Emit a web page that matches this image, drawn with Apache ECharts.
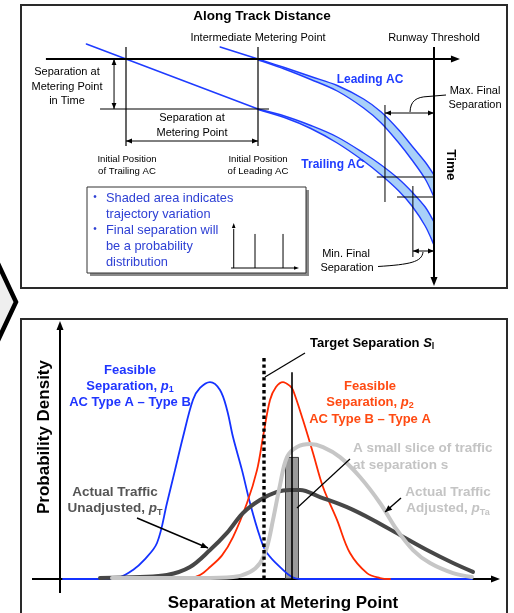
<!DOCTYPE html>
<html>
<head>
<meta charset="utf-8">
<script src="https://cdn.jsdelivr.net/npm/echarts@6/dist/echarts.min.js"></script>
<style>
html,body{margin:0;padding:0;background:#fff;}
#c{width:514px;height:613px;}
</style>
</head>
<body>
<div id="c"></div>
<script>
// ---------- Trajectory panel: along-track distance (x) vs time (y, downwards) ----------
const trailingApproach = [[-4.5, -0.6], [15, 2]];
const leadingApproach = [[10.7, -0.48], [15, 0]];
const bandDistance = [15, 18, 21, 24, 27, 29, 31, 32.5, 34, 35];
const leadingEarly = [0, 0.34, 0.7, 1.06, 1.6, 2.12, 2.84, 3.48, 4.12, 4.64];
const leadingLate = [0.03, 0.4, 0.82, 1.28, 1.96, 2.56, 3.36, 4.04, 4.8, 5.52];
const trailingEarly = [2.0, 2.28, 2.66, 3.12, 3.76, 4.24, 4.8, 5.32, 5.92, 6.52];
const trailingLate = [2.02, 2.34, 2.78, 3.36, 4.08, 4.64, 5.28, 5.88, 6.68, 7.44];
const meteringPoint = 15;
const runwayThreshold = 35;
const meteringTimeSeparation = 2;

// ---------- Separation distributions ----------
const sepBlue = [0.75, 10, 15, 18.25, 21, 24.25, 26.75, 28.75, 30.75, 33.25, 35, 37.5, 40, 41.75, 43.25, 45.5, 47.5, 50, 51.75, 55.75, 58, 60, 103];
const densBlue = [0, 0, 0.01, 0.046, 0.096, 0.183, 0.386, 0.553, 0.721, 0.91, 0.97, 1.0, 0.96, 0.86, 0.721, 0.553, 0.386, 0.213, 0.132, 0.046, 0.01, 0, 0];
const sepRed = [28, 32.5, 35, 37.5, 40.5, 43.25, 46.75, 49.25, 50.75, 52.5, 54, 55.75, 57.5, 58.25, 60.75, 63.25, 65.75, 69.25, 72.5, 76.75, 80, 82.5];
const densRed = [0, 0.005, 0.02, 0.061, 0.12, 0.213, 0.386, 0.553, 0.721, 0.909, 0.975, 1.0, 0.98, 0.96, 0.807, 0.64, 0.467, 0.3, 0.132, 0.03, 0.005, 0];
const sepUnadj = [10, 20, 26.75, 32.5, 37.5, 41.75, 45.75, 50, 54.25, 57.5, 60, 65, 71.75, 78.25, 85, 91.75, 98.25, 103.25];
const densUnadj = [0.005, 0.01, 0.02, 0.061, 0.147, 0.234, 0.335, 0.401, 0.442, 0.452, 0.452, 0.416, 0.365, 0.3, 0.223, 0.147, 0.081, 0.036];
const sepAdj = [13, 26.75, 35, 43.25, 47.5, 50, 51.75, 53.25, 55, 56.75, 59.25, 62.5, 65.75, 70, 75, 80, 84.25, 88.25, 92.5, 98.25, 103];
const densAdj = [0.005, 0.005, 0.005, 0.01, 0.036, 0.081, 0.162, 0.3, 0.477, 0.619, 0.67, 0.685, 0.67, 0.619, 0.518, 0.386, 0.249, 0.147, 0.081, 0.03, 0.01];
const targetSeparation = 51;
const sliceSeparation = 58;
const sliceDensity = 0.62;

// ---------- Small inset distribution ----------
const miniX = [2.6, 3.5, 4.2, 4.8, 5.4, 6.0, 6.6, 7.3, 8.2];
const miniY = [0, 0.03, 0.3, 0.75, 1.0, 0.75, 0.3, 0.03, 0];
const miniBounds = [3.53, 7.65];

const BLUE = '#1f3cff';
const BAND = '#a9d0f8';
const FONT = '"Liberation Sans", Arial, Helvetica, sans-serif';

const zip = (xs, ys) => xs.map((x, i) => [x, ys[i]]);

// Catmull-Rom spline through pixel points, as SVG path commands (without the initial move)
function splineCmds(pts) {
  let d = '';
  for (let i = 0; i < pts.length - 1; i++) {
    const p0 = pts[Math.max(i - 1, 0)], p1 = pts[i], p2 = pts[i + 1], p3 = pts[Math.min(i + 2, pts.length - 1)];
    const c1 = [p1[0] + (p2[0] - p0[0]) / 6, p1[1] + (p2[1] - p0[1]) / 6];
    const c2 = [p2[0] - (p3[0] - p1[0]) / 6, p2[1] - (p3[1] - p1[1]) / 6];
    d += ' C' + c1[0] + ' ' + c1[1] + ' ' + c2[0] + ' ' + c2[1] + ' ' + p2[0] + ' ' + p2[1];
  }
  return d;
}

// A trajectory band: early and late arrival edges with the variation shaded between them
function band(early, late) {
  return {
    type: 'custom', xAxisIndex: 0, yAxisIndex: 0, silent: true,
    data: [[bandDistance[0], early[0]]],
    renderItem: (params, api) => {
      const up = bandDistance.map((d, i) => api.coord([d, early[i]]));
      const lo = bandDistance.map((d, i) => api.coord([d, late[i]]));
      const loR = lo.slice().reverse();
      const upPath = 'M' + up[0][0] + ' ' + up[0][1] + splineCmds(up);
      const loPath = 'M' + lo[0][0] + ' ' + lo[0][1] + splineCmds(lo);
      const fillPath = upPath + ' L' + loR[0][0] + ' ' + loR[0][1] + splineCmds(loR) + ' Z';
      return {
        type: 'group',
        children: [
          { type: 'path', shape: { pathData: fillPath }, style: { fill: BAND, stroke: null } },
          { type: 'path', shape: { pathData: upPath }, style: { fill: null, stroke: BLUE, lineWidth: 1.4 } },
          { type: 'path', shape: { pathData: loPath }, style: { fill: null, stroke: BLUE, lineWidth: 1.4 } }
        ]
      };
    }
  };
}
function curve(g, data, color, width, smooth) {
  return {
    type: 'line', xAxisIndex: g, yAxisIndex: g, data,
    smooth: smooth == null ? 0.35 : smooth, symbol: 'none', silent: true,
    lineStyle: { color, width, cap: 'round', join: 'round' }
  };
}

const chart = echarts.init(document.getElementById('c'), null, { renderer: 'canvas' });

chart.setOption({
  animation: false,
  grid: [
    { left: 82, width: 396, top: 34, height: 275 },
    { left: 60, width: 440, top: 323, height: 256 },
    { left: 231, width: 68, top: 223, height: 45 }
  ],
  xAxis: [
    { type: 'value', gridIndex: 0, min: -5, max: 40, show: false },
    { type: 'value', gridIndex: 1, min: 0, max: 110, show: false },
    { type: 'value', gridIndex: 2, min: 0, max: 10, show: false }
  ],
  yAxis: [
    { type: 'value', gridIndex: 0, min: -1, max: 10, inverse: true, show: false },
    { type: 'value', gridIndex: 1, min: 0, max: 1.3, show: false },
    { type: 'value', gridIndex: 2, min: 0, max: 1.15, show: false }
  ],
  series: [
    curve(0, trailingApproach, BLUE, 1.5, 0),
    curve(0, leadingApproach, BLUE, 1.5, 0),
    band(leadingEarly, leadingLate),
    band(trailingEarly, trailingLate),

    curve(1, zip(sepBlue, densBlue), '#1432ff', 1.8),
    curve(1, zip(sepRed, densRed), '#ff2a00', 1.8),
    curve(1, zip(sepUnadj, densUnadj), '#474747', 4),
    curve(1, zip(sepAdj, densAdj), '#c6c6c6', 4),
    {
      type: 'bar', xAxisIndex: 1, yAxisIndex: 1, silent: true,
      data: [[sliceSeparation, sliceDensity]], barWidth: 14,
      itemStyle: { color: '#9b9b9b', borderColor: '#3a3a3a', borderWidth: 1 }
    },

    curve(2, zip(miniX, miniY), '#1f3cff', 1.4, 0.4)
  ]
});

// ---------- Annotation layer ----------
const els = [];
const P = (g, x, y) => chart.convertToPixel({ gridIndex: g }, [x, y]);
const ctx = document.createElement('canvas').getContext('2d');
const font = (size, bold, italic) => (italic ? 'italic ' : '') + (bold ? 'bold ' : '') + size + 'px ' + FONT;

function seg(a, b, w, color, z, dash) {
  els.push({ type: 'line', silent: true, z: z || 10,
    shape: { x1: a[0], y1: a[1], x2: b[0], y2: b[1] },
    style: { stroke: color || '#000', lineWidth: w || 1, lineDash: dash || null } });
}
function head(tip, from, len, hw, color) {
  const dx = tip[0] - from[0], dy = tip[1] - from[1], L = Math.hypot(dx, dy);
  const ux = dx / L, uy = dy / L, bx = tip[0] - ux * len, by = tip[1] - uy * len;
  els.push({ type: 'polygon', silent: true, z: 11,
    shape: { points: [[tip[0], tip[1]], [bx - uy * hw, by + ux * hw], [bx + uy * hw, by - ux * hw]] },
    style: { fill: color || '#000' } });
}
function arrow(a, b, w, len, hw) { seg(a, b, w); head(b, a, len, hw); }
function dbl(a, b) { seg(a, b, 1); head(a, b, 6, 2.4); head(b, a, 6, 2.4); }
function bez(pts, w) {
  els.push({ type: 'bezierCurve', silent: true, z: 10,
    shape: { x1: pts[0][0], y1: pts[0][1], cpx1: pts[1][0], cpy1: pts[1][1],
             cpx2: pts[2][0], cpy2: pts[2][1], x2: pts[3][0], y2: pts[3][1] },
    style: { stroke: '#000', lineWidth: w || 1, fill: null } });
}
function text(str, x, y, opt) {
  opt = opt || {};
  els.push({ type: 'text', silent: true, z: 12, x, y, rotation: opt.rot || 0,
    style: { text: str, font: font(opt.size || 11, opt.bold, opt.italic), fill: opt.color || '#000',
      align: opt.align || 'center', verticalAlign: 'middle',
      textAlign: opt.align || 'center', textVerticalAlign: 'middle' } });
}
// text made of runs (for italic symbols with subscripts)
function runs(parts, x, y, opt) {
  const base = opt.size, bold = opt.bold;
  const items = parts.map(p => {
    const o = typeof p === 'string' ? { t: p } : p;
    const size = o.sub ? Math.round(base * 0.68) : base;
    const f = font(size, bold, o.italic);
    ctx.font = f;
    return { t: o.t, f, w: ctx.measureText(o.t).width, dy: o.sub ? base * 0.3 : 0 };
  });
  const total = items.reduce((s, it) => s + it.w, 0);
  let cx = opt.align === 'left' ? x : x - total / 2;
  items.forEach(it => {
    els.push({ type: 'text', silent: true, z: 12, x: cx, y: y + it.dy,
      style: { text: it.t, font: it.f, fill: opt.color, align: 'left', verticalAlign: 'middle',
        textAlign: 'left', textVerticalAlign: 'middle' } });
    cx += it.w;
  });
}

// Panel frames and the connecting arrow
els.push({ type: 'rect', silent: true, z: 0, shape: { x: 21, y: 5, width: 486, height: 283 },
  style: { fill: '#fff', stroke: '#2a2a2a', lineWidth: 2 } });
els.push({ type: 'rect', silent: true, z: 0, shape: { x: 21, y: 319, width: 486, height: 320 },
  style: { fill: '#fff', stroke: '#2a2a2a', lineWidth: 2 } });
els.push({ type: 'polygon', silent: true, z: 1, shape: { points: [[-30, 204], [16, 302], [-30, 400]] },
  style: { fill: '#efefef', stroke: '#000', lineWidth: 4.5, lineJoin: 'miter' } });

// --- Trajectory panel geometry ---
const tTop = -0.48, tRef = 3.48;
seg(P(0, -9.1, 0), P(0, 37.2, 0), 2);
head(P(0, 37.95, 0), P(0, 30, 0), 9, 3.5);
seg(P(0, runwayThreshold, tTop), P(0, runwayThreshold, 8.8), 2);
head(P(0, runwayThreshold, 9.08), P(0, runwayThreshold, 8), 9, 3.5);
seg(P(0, 0, tTop), P(0, 0, tRef), 1.2);
seg(P(0, meteringPoint, tTop), P(0, meteringPoint, tRef), 1.2);
seg(P(0, -2.95, meteringTimeSeparation), P(0, 16.25, meteringTimeSeparation), 1.2);
dbl(P(0, -1.36, 0), P(0, -1.36, meteringTimeSeparation));
dbl(P(0, 0, 3.28), P(0, meteringPoint, 3.28));
// max final separation
seg(P(0, 29.43, 1.84), P(0, 29.43, 5.72), 1);
seg(P(0, 28.5, 4.72), P(0, runwayThreshold, 4.72), 1);
dbl(P(0, 29.43, 2.16), P(0, runwayThreshold, 2.16));
bez([[410, 112], [410.5, 101], [416, 97], [428, 96.5]], 1);
seg([428, 96.5], [446, 95], 1);
// min final separation
seg(P(0, 30.8, 5.52), P(0, runwayThreshold, 5.52), 1);
seg(P(0, 32.6, 5.08), P(0, 32.6, 7.92), 1);
dbl(P(0, 32.6, 7.68), P(0, runwayThreshold, 7.68));
bez([[423, 252], [422, 262], [410, 264.5], [378, 266.5]], 1);

text('Along Track Distance', 262, 16, { size: 13.5, bold: true });
text('Intermediate Metering Point', 258, 38, { size: 11 });
text('Runway Threshold', 434, 38, { size: 11 });
text('Separation at', 67, 72, { size: 11 });
text('Metering Point', 67, 87, { size: 11 });
text('in Time', 67, 101, { size: 11 });
text('Separation at', 192, 118, { size: 11 });
text('Metering Point', 192, 133, { size: 11 });
text('Leading AC', 370, 80, { size: 12, bold: true, color: BLUE });
text('Trailing AC', 333, 165, { size: 12, bold: true, color: BLUE });
text('Max. Final', 475, 91, { size: 11 });
text('Separation', 475, 105, { size: 11 });
text('Initial Position', 127, 159, { size: 9.6 });
text('of Trailing AC', 127, 171, { size: 9.6 });
text('Initial Position', 258, 159, { size: 9.6 });
text('of Leading AC', 258, 171, { size: 9.6 });
text('Time', 451, 165, { size: 13.5, bold: true, rot: -Math.PI / 2 });
text('Min. Final', 346, 254, { size: 11 });
text('Separation', 347, 268, { size: 11 });

// Inset note with a small distribution sketch
els.push({ type: 'rect', silent: true, z: 3, shape: { x: 90, y: 190, width: 219, height: 86 }, style: { fill: '#8a8a8a' } });
els.push({ type: 'rect', silent: true, z: 4, shape: { x: 87, y: 187, width: 219, height: 86 },
  style: { fill: '#fff', stroke: '#333', lineWidth: 1 } });
const NOTE = '#2e40d4';
text('\u2022', 95, 197, { size: 10, color: NOTE });
text('\u2022', 95, 229, { size: 10, color: NOTE });
[['Shaded area indicates', 198], ['trajectory variation', 214], ['Final separation will', 230],
 ['be a probability', 246], ['distribution', 262]].forEach(([s, y]) =>
  text(s, 106, y, { size: 12.8, color: NOTE, align: 'left' }));
seg(P(2, 0.4, 0), P(2, 0.4, 1.0), 1);
head(P(2, 0.4, 1.15), P(2, 0.4, 0.5), 5, 1.8);
seg(P(2, 0, 0), P(2, 9.6, 0), 1);
head(P(2, 10, 0), P(2, 5, 0), 5, 1.8);
miniBounds.forEach(b => seg(P(2, b, 0), P(2, b, 0.87), 1));

// --- Distribution panel geometry ---
seg(P(1, -7, 0), P(1, 108.5, 0), 2, '#000', 1);
head(P(1, 110, 0), P(1, 100, 0), 9, 3.5);
seg(P(1, 0, -0.071), P(1, 0, 1.27), 2, '#000', 1);
head(P(1, 0, 1.31), P(1, 0, 1), 9, 3.5);
seg(P(1, targetSeparation, 0), P(1, targetSeparation, 1.13), 3.4, '#000', 10, [3.4, 3]);
seg(P(1, sliceSeparation, 0), P(1, sliceSeparation, 1.05), 1.6, '#000', 10);
seg([265, 377], [305, 353], 1.2);
seg([297, 508], [350, 459], 1.2);
arrow([401, 498], [385, 512], 1.4, 7, 3);
arrow([137, 518], [208, 548], 1.4, 7, 3);

text('Probability Density', 44, 437, { size: 17, bold: true, rot: Math.PI / 2 });
text('Separation at Metering Point', 283, 603, { size: 17, bold: true });
runs(['Target Separation ', { t: 'S', italic: true }, { t: 'l', sub: true }], 310, 343, { size: 13, bold: true, color: '#000', align: 'left' });

const PB = '#1f35ff';
text('Feasible', 130, 370, { size: 13, bold: true, color: PB });
runs(['Separation, ', { t: 'p', italic: true }, { t: '1', sub: true }], 130, 386, { size: 13, bold: true, color: PB });
text('AC Type A \u2013 Type B', 130, 402, { size: 13, bold: true, color: PB });

const PR = '#ff4a12';
text('Feasible', 370, 386, { size: 13, bold: true, color: PR });
runs(['Separation, ', { t: 'p', italic: true }, { t: '2', sub: true }], 370, 402, { size: 13, bold: true, color: PR });
text('AC Type B \u2013 Type A', 370, 419, { size: 13, bold: true, color: PR });

const LG = '#c4c4c4';
text('A small slice of traffic', 353, 448, { size: 13.5, bold: true, color: LG, align: 'left' });
text('at separation s', 353, 465, { size: 13.5, bold: true, color: LG, align: 'left' });
text('Actual Traffic', 448, 492, { size: 13.5, bold: true, color: LG });
runs(['Adjusted, ', { t: 'p', italic: true }, { t: 'Ta', sub: true }], 448, 508, { size: 13.5, bold: true, color: LG });

const DG = '#555';
text('Actual Traffic', 115, 492, { size: 13.5, bold: true, color: DG });
runs(['Unadjusted, ', { t: 'p', italic: true }, { t: 'T', sub: true }], 115, 508, { size: 13.5, bold: true, color: DG });

chart.setOption({ graphic: { elements: els } });
</script>
</body>
</html>
